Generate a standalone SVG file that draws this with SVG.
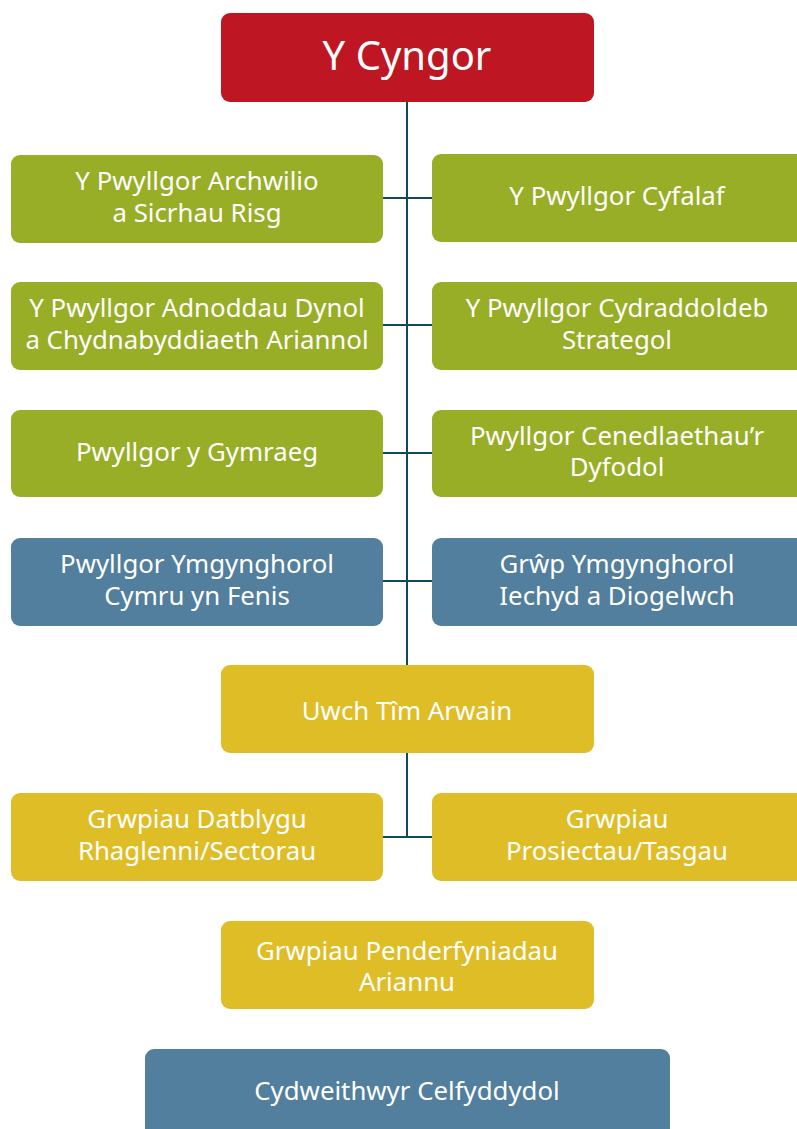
<svg xmlns="http://www.w3.org/2000/svg" width="797" height="1129" viewBox="0 0 797 1129">
<style>
.box{stroke:none}
.red{fill:#BE1622}
.green{fill:#97AE26}
.blue{fill:#517F9D}
.yellow{fill:#DFBD27}
text{font-family:"Noto Sans","Open Sans",sans-serif;font-size:25.8px;fill:#ffffff;text-anchor:middle}
.title{font-size:40px}
.conn{stroke:#0E4A5C;stroke-width:2;fill:none}
</style>
<rect width="797" height="1129" fill="#ffffff"/>
<g id="connectors">
<line class="conn" x1="407" y1="102" x2="407" y2="665"/>
<line class="conn" x1="407" y1="753" x2="407" y2="837"/>
<line class="conn" x1="383" y1="198" x2="432" y2="198"/>
<line class="conn" x1="383" y1="325" x2="432" y2="325"/>
<line class="conn" x1="383" y1="453" x2="432" y2="453"/>
<line class="conn" x1="383" y1="581" x2="432" y2="581"/>
<line class="conn" x1="383" y1="837" x2="432" y2="837"/>
</g>
<g id="cyngor"><rect class="box red" x="221" y="13" width="373" height="89" rx="9"/><text class="title" x="407" y="70">Y Cyngor</text></g>
<g id="archwilio"><rect class="box green" x="11" y="155" width="372" height="88" rx="9"/><text x="197" y="190">Y Pwyllgor Archwilio</text><text x="197" y="222">a Sicrhau Risg</text></g>
<g id="cyfalaf"><rect class="box green" x="432" y="154" width="380" height="88" rx="9"/><text x="617" y="205">Y Pwyllgor Cyfalaf</text></g>
<g id="adnoddau"><rect class="box green" x="11" y="282" width="372" height="88" rx="9"/><text x="197" y="317">Y Pwyllgor Adnoddau Dynol</text><text x="197" y="349">a Chydnabyddiaeth Ariannol</text></g>
<g id="cydraddoldeb"><rect class="box green" x="432" y="282" width="380" height="88" rx="9"/><text x="617" y="317">Y Pwyllgor Cydraddoldeb</text><text x="617" y="349">Strategol</text></g>
<g id="gymraeg"><rect class="box green" x="11" y="410" width="372" height="87" rx="9"/><text x="197" y="461">Pwyllgor y Gymraeg</text></g>
<g id="cenedlaethau"><rect class="box green" x="432" y="410" width="380" height="87" rx="9"/><text x="617" y="445">Pwyllgor Cenedlaethau’r</text><text x="617" y="476">Dyfodol</text></g>
<g id="fenis"><rect class="box blue" x="11" y="538" width="372" height="88" rx="9"/><text x="197" y="573">Pwyllgor Ymgynghorol</text><text x="197" y="605">Cymru yn Fenis</text></g>
<g id="iechyd"><rect class="box blue" x="432" y="538" width="380" height="88" rx="9"/><text x="617" y="573">Grŵp Ymgynghorol</text><text x="617" y="605">Iechyd a Diogelwch</text></g>
<g id="uwch"><rect class="box yellow" x="221" y="665" width="373" height="88" rx="9"/><text x="407" y="720">Uwch Tîm Arwain</text></g>
<g id="datblygu"><rect class="box yellow" x="11" y="793" width="372" height="88" rx="9"/><text x="197" y="828">Grwpiau Datblygu</text><text x="197" y="860">Rhaglenni/Sectorau</text></g>
<g id="prosiectau"><rect class="box yellow" x="432" y="793" width="380" height="88" rx="9"/><text x="617" y="828">Grwpiau</text><text x="617" y="860">Prosiectau/Tasgau</text></g>
<g id="penderfyniadau"><rect class="box yellow" x="221" y="921" width="373" height="88" rx="9"/><text x="407" y="960">Grwpiau Penderfyniadau</text><text x="407" y="991">Ariannu</text></g>
<g id="cydweithwyr"><rect class="box blue" x="145" y="1049" width="525" height="100" rx="9"/><text x="407" y="1100">Cydweithwyr Celfyddydol</text></g>
</svg>
